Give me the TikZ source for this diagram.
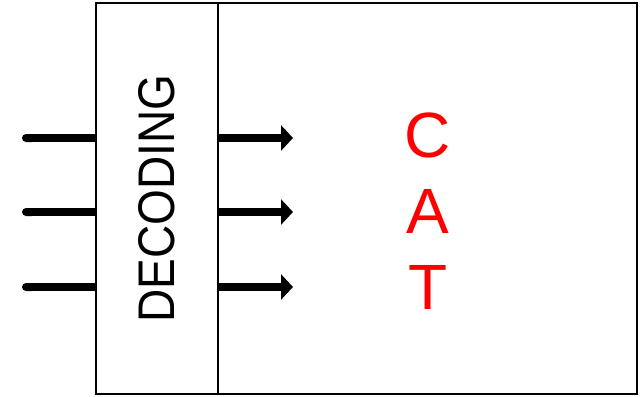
\documentclass[tikz,border=0pt]{standalone}
\usepackage{fontspec}
\setmainfont{Liberation Sans}
\usetikzlibrary{arrows.meta}
\tikzset{
  box/.style={draw, line width=1.6pt, inner sep=0pt},
  wire/.style={line width=8pt, {Round Cap[]}-},
  outwire/.style={line width=8pt, -{Triangle[length=12pt,width=25pt]}},
  letter/.style={text=red, font=\fontsize{64}{64}\selectfont, inner sep=0pt}
}
\begin{document}
\begin{tikzpicture}[x=1pt,y=-1pt]
				\useasboundingbox (0,0) rectangle (644,396);
				\node[box, minimum width=122pt, minimum height=391pt] (dec) at (157,198.5) {};
				\node[box, minimum width=419pt, minimum height=391pt] (out) at (427.5,198.5) {};
				\node[rotate=90, yscale=1.12, inner sep=0pt, font=\fontsize{46}{46}\selectfont] (declabel) at (156.5,198.5) {DECODING};
				\coordinate (in1) at (22,138);
				\coordinate (in2) at (22,212);
				\coordinate (in3) at (22,287);
				\coordinate (o1) at (293,138);
				\coordinate (o2) at (293,212);
				\coordinate (o3) at (293,287);
				\draw[wire] (in1) -- (in1 -| dec.west);
				\draw[wire] (in2) -- (in2 -| dec.west);
				\draw[wire] (in3) -- (in3 -| dec.west);
				\draw[outwire] (o1 -| dec.east) -- (o1);
				\draw[outwire] (o2 -| dec.east) -- (o2);
				\draw[outwire] (o3 -| dec.east) -- (o3);
				\node[letter] (c) at (428,135.5) {C};
				\node[letter] (a) at (428,211.5) {A};
				\node[letter] (t) at (428,287) {T};
			\end{tikzpicture}
\end{document}
